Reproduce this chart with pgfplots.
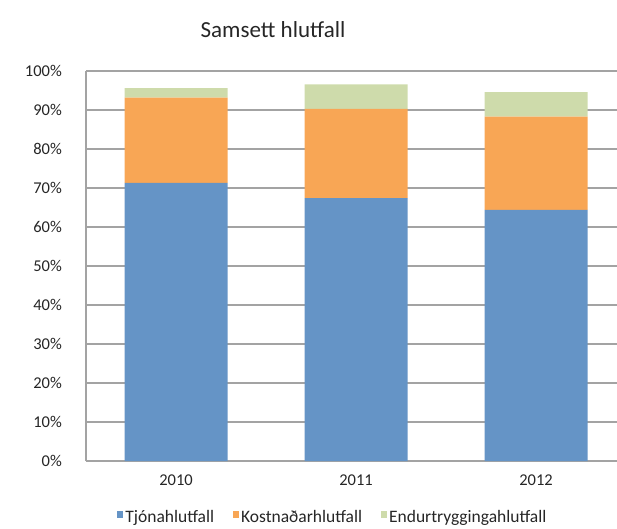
\documentclass[border=0pt]{standalone}
\usepackage{fontspec}
\setmainfont{Carlito}
\usepackage{pgfplots}
\pgfplotsset{compat=1.18}
\definecolor{cblue}{HTML}{6594C6}
\definecolor{corange}{HTML}{F8A655}
\definecolor{cgreen}{HTML}{CEDBAB}
\definecolor{cgrid}{HTML}{A3A3A3}
\begin{document}
\begin{tikzpicture}
\useasboundingbox (0,0) rectangle (617pt,528pt);
\node[font=\fontsize{23}{26}\selectfont, color=black!85] at (273pt,498pt) {Samsett hlutfall};
\begin{axis}[
  at={(86pt,67pt)}, anchor=south west,
  scale only axis, width=531pt, height=390pt,
  ybar stacked, bar width=103pt,
  xmin=-0.5, xmax=2.45, ymin=0, ymax=100,
  xtick={0,1,2}, xticklabels={2010,2011,2012},
  ytick={0,10,...,100},
  yticklabels={0\%,10\%,20\%,30\%,40\%,50\%,60\%,70\%,80\%,90\%,100\%},
  major tick length=0pt,
  axis lines*=left,
  axis line style={draw=cgrid, line width=1.3pt},
  ymajorgrids, grid style={draw=cgrid, line width=1.3pt},
  tick label style={font=\fontsize{16.5}{19}\selectfont, color=black!85, inner sep=0pt},
  yticklabel style={anchor=east, xshift=-24pt},
  xticklabel style={anchor=center, yshift=-19pt},
  legend columns=3,
  legend style={at={(0.465,-0.145)}, anchor=center, draw=none, fill=none,
    font=\fontsize{17.5}{20}\selectfont, text=black!85,
    /tikz/every even column/.append style={column sep=17pt}},
  legend image code/.code={\fill[#1, draw=none] (0pt,0pt) rectangle (6pt,7pt);},
]
\addplot+[fill=cblue, draw=none] coordinates {(0,71.3) (1,67.4) (2,64.4)};
\addplot+[fill=corange, draw=none] coordinates {(0,21.9) (1,22.9) (2,23.9)};
\addplot+[fill=cgreen, draw=none] coordinates {(0,2.4) (1,6.3) (2,6.3)};
\legend{Tjónahlutfall,Kostnaðarhlutfall,Endurtryggingahlutfall}
\end{axis}
\end{tikzpicture}
\end{document}
